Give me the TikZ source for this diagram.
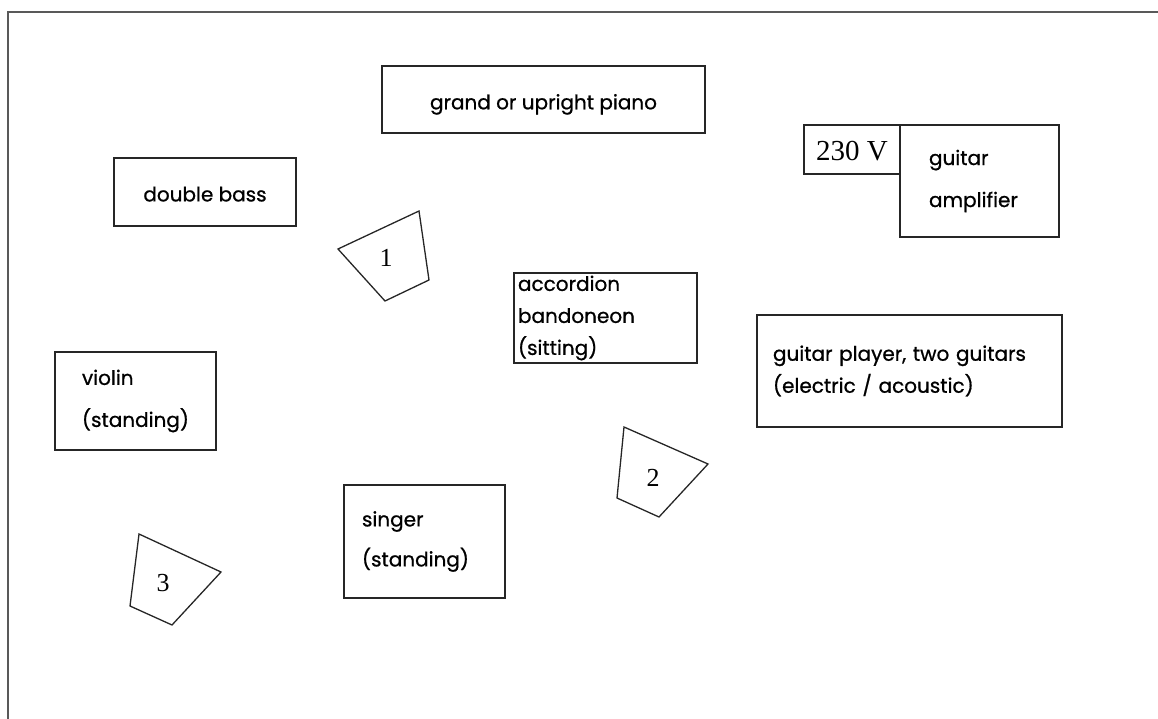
\documentclass[tikz,border=0pt]{standalone}
\usepackage{fontspec}
\setmainfont{Poppins}[FakeBold=0.8]
\newfontfamily\numfont{Liberation Serif}

\begin{document}
\begin{tikzpicture}[x=1pt, y=-1pt,
    box/.style={draw=black!85, line width=2.4pt, inner ysep=0pt, align=left,
      font=\fontsize{20}{42}\selectfont},
    tight/.style={font=\fontsize{20}{32}\selectfont},
    monitor/.style={draw=black!85, line width=1.3pt, line join=miter},
    num/.style={font=\numfont\fontsize{26}{26}\selectfont}]
  \useasboundingbox (0,0) rectangle (1158,719);
  \draw[line width=1.2pt, black!65] (8,719) -- (8,12) -- (1158,12);

  \node[box, align=center, text height=25pt, minimum width=323, minimum height=67] (piano) at (543.5,99.5) {grand or upright piano};
  \node[box, align=center, text height=19pt, minimum width=182, minimum height=68] (bass) at (205,192) {double bass};
  \node[box, num, font=\numfont\fontsize{29}{29}\selectfont, text height=22pt, minimum width=96, minimum height=49] (volt) at (852,149.5) {230 V};
  \node[box, inner xsep=29pt, text width=101pt, minimum height=112] (amp) at (979.5,181) {guitar\\amplifier};
  \node[box, tight, inner xsep=4pt, text width=175pt, minimum height=90] (accordion) at (605.5,318) {accordion\\bandoneon\\(sitting)};
  \node[box, tight, inner xsep=16pt, text width=273pt, minimum height=112] (guitar) at (909.5,371) {guitar player, two guitars\\(electric / acoustic)};
  \node[box, inner xsep=27pt, text width=107pt, minimum height=98] (violin) at (135.5,401) {violin\\(standing)};
  \node[box, font=\fontsize{20}{40}\selectfont, inner xsep=18pt, text width=125pt, minimum height=113] (singer) at (424.5,541.5) {singer\\(standing)};

  \draw[monitor] (419,211) -- (338,249) -- (385,301) -- (429,280) -- cycle;
  \node[num] (mon1) at (386,258) {1};
  \draw[monitor] (624,427) -- (708,464) -- (659,517) -- (617,498) -- cycle;
  \node[num] (mon2) at (653,478) {2};
  \draw[monitor] (139,534) -- (221,572) -- (172,625) -- (130,606) -- cycle;
  \node[num] (mon3) at (163,583) {3};
\end{tikzpicture}
\end{document}
